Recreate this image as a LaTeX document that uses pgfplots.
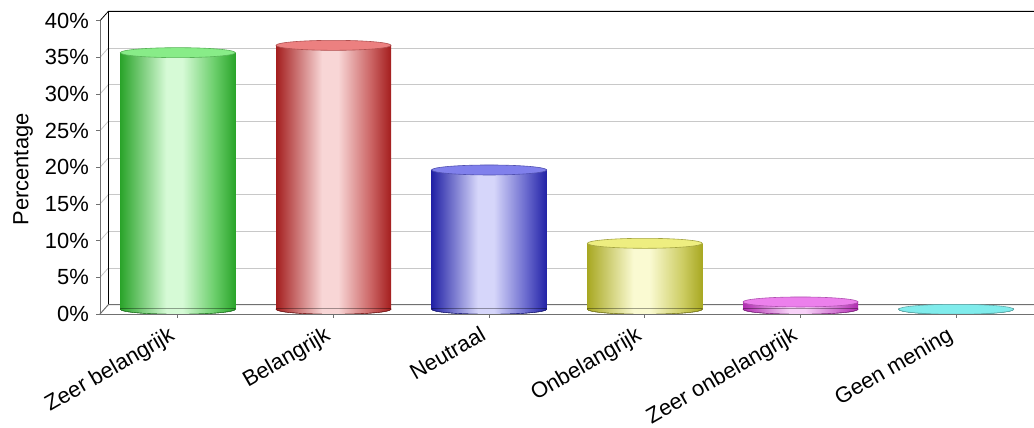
\documentclass[border=0pt]{standalone}
\usepackage{pgfplots}
\pgfplotsset{compat=1.18}
\usepackage{fontspec}
\setmainfont{Liberation Sans}

\definecolor{gE}{HTML}{2AA42A}\definecolor{gL}{HTML}{D6FAD6}\definecolor{gM}{HTML}{6ACE6A}\definecolor{gT}{HTML}{88EC88}\definecolor{gO}{HTML}{58B458}
\definecolor{rE}{HTML}{A41E1E}\definecolor{rL}{HTML}{F8D6D6}\definecolor{rM}{HTML}{CC6666}\definecolor{rT}{HTML}{EC8080}\definecolor{rO}{HTML}{B05050}
\definecolor{bE}{HTML}{2222A6}\definecolor{bL}{HTML}{D6D6FA}\definecolor{bM}{HTML}{6A6ACE}\definecolor{bT}{HTML}{8080EC}\definecolor{bO}{HTML}{5050B0}
\definecolor{yE}{HTML}{A8A822}\definecolor{yL}{HTML}{FAFAD2}\definecolor{yM}{HTML}{CECE66}\definecolor{yT}{HTML}{EEEE80}\definecolor{yO}{HTML}{A4A440}
\definecolor{mE}{HTML}{B02CB0}\definecolor{mL}{HTML}{F8D2F8}\definecolor{mM}{HTML}{D070D0}\definecolor{mT}{HTML}{EC80EC}\definecolor{mO}{HTML}{B050B0}
\definecolor{cE}{HTML}{30B0B0}\definecolor{cL}{HTML}{D4F8F8}\definecolor{cM}{HTML}{70D0D0}\definecolor{cT}{HTML}{80ECEC}\definecolor{cO}{HTML}{60AAAA}
\definecolor{gridc}{HTML}{C8C8C8}
\definecolor{framec}{HTML}{707070}

\newcommand\defcyl[1]{%
 \pgfdeclarehorizontalshading{cyl#1}{100bp}{color(0bp)=(#1E); color(25bp)=(#1E); color(45bp)=(#1L); color(52bp)=(#1L); color(66bp)=(#1M); color(75bp)=(#1E); color(100bp)=(#1E)}%
 \pgfdeclareplotmark{bot#1}{%
   \shade[shading=cyl#1] (-57.5bp,0.6bp) -- (-57.5bp,0bp) arc[start angle=180, end angle=360, x radius=57.5bp, y radius=5bp] -- (57.5bp,0.6bp) -- cycle;
   \draw[#1E, line width=0.4bp] (-57.5bp,0bp) arc[start angle=180, end angle=360, x radius=57.5bp, y radius=5bp];}%
 \pgfdeclareplotmark{top#1}{\filldraw[fill=#1T, draw=#1O, line width=0.6bp] (0bp,0bp) ellipse (57.5bp and 5bp);}%
}
\defcyl{g}\defcyl{r}\defcyl{b}\defcyl{y}\defcyl{m}\defcyl{c}

\begin{document}
\begin{tikzpicture}
\begin{axis}[
  set layers,
  scale only axis, width=934bp, height=293.3bp,
  xmin=-0.5, xmax=5.5, ymin=0, ymax=40,
  clip=false,
  axis line style={draw=none},
  major tick length=0pt,
  xtick={0,1,2,3,4,5},
  xticklabels={Zeer belangrijk, Belangrijk, Neutraal, Onbelangrijk, Zeer onbelangrijk, Geen mening},
  ytick={0,5,10,15,20,25,30,35,40},
  yticklabel={\pgfmathprintnumber{\tick}\%},
  /pgf/number format/assume math mode=true,
  tick label style={font=\fontsize{22}{26}\selectfont, inner sep=0pt},
  yticklabel style={anchor=east, xshift=-11bp, yshift=-4.7bp},
  xticklabel style={xshift=-10bp, yshift=-16bp, rotate=30, anchor=north east},
  ylabel={Percentage},
  ylabel style={font=\fontsize{22}{26}\selectfont, at={(axis description cs:-0.0824,0.477)}, anchor=center},
]
\coordinate (LL) at (rel axis cs:0,0);
\coordinate (UR) at (rel axis cs:1,1);

\begin{pgfonlayer}{axis background}
 \pgfplotsinvokeforeach{5,10,15,20,25,30,35}{
   \draw[gridc, line width=0.8bp] ([xshift=8.3bp,yshift=4.6bp]axis cs:-0.5,#1) -- ([yshift=4.6bp]axis cs:5.5,#1);
   \draw[gridc, line width=0.8bp] ([yshift=-4.7bp]axis cs:-0.5,#1) -- ([xshift=8.3bp,yshift=4.6bp]axis cs:-0.5,#1);
 }
 \draw[black, line width=0.8bp] ([yshift=-4.7bp]axis cs:-0.5,40) -- ([xshift=8.3bp,yshift=4.6bp]axis cs:-0.5,40) -- ([yshift=4.6bp]axis cs:5.5,40);
 \draw[black, line width=0.8bp] ([xshift=8.3bp,yshift=4.6bp]axis cs:-0.5,40) -- ([xshift=8.3bp,yshift=4.6bp]axis cs:-0.5,0);
 \draw[framec, line width=1bp] ([yshift=-4.7bp]axis cs:-0.5,0) -- ([xshift=8.3bp,yshift=4.6bp]axis cs:-0.5,0) -- ([yshift=4.6bp]axis cs:5.5,0);
\end{pgfonlayer}

% bottoms
\addplot[only marks, mark=botg] coordinates {(0,0)};
\addplot[only marks, mark=botr] coordinates {(1,0)};
\addplot[only marks, mark=botb] coordinates {(2,0)};
\addplot[only marks, mark=boty] coordinates {(3,0)};
\addplot[only marks, mark=botm] coordinates {(4,0)};
\addplot[only marks, mark=botc] coordinates {(5,0)};
% bodies
\addplot[ybar, bar width=115bp, bar shift=0pt, draw=none, shade, shading=cylg] coordinates {(0,35)};
\addplot[ybar, bar width=115bp, bar shift=0pt, draw=none, shade, shading=cylr] coordinates {(1,36)};
\addplot[ybar, bar width=115bp, bar shift=0pt, draw=none, shade, shading=cylb] coordinates {(2,19)};
\addplot[ybar, bar width=115bp, bar shift=0pt, draw=none, shade, shading=cyly] coordinates {(3,9)};
\addplot[ybar, bar width=115bp, bar shift=0pt, draw=none, shade, shading=cylm] coordinates {(4,1)};
% tops
\addplot[only marks, mark=topg] coordinates {(0,35)};
\addplot[only marks, mark=topr] coordinates {(1,36)};
\addplot[only marks, mark=topb] coordinates {(2,19)};
\addplot[only marks, mark=topy] coordinates {(3,9)};
\addplot[only marks, mark=topm] coordinates {(4,1)};
\addplot[only marks, mark=topc] coordinates {(5,0)};

\begin{pgfonlayer}{axis foreground}
 \draw[framec, line width=1bp] ([yshift=-4.7bp]axis cs:-0.5,0) -- ([yshift=-4.7bp]axis cs:-0.5,40);
 \pgfplotsinvokeforeach{0,5,10,15,20,25,30,35,40}{
   \draw[framec, line width=0.8bp] ([yshift=-4.7bp]axis cs:-0.5,#1) -- ([xshift=-3.5bp,yshift=-4.7bp]axis cs:-0.5,#1);
 }
 \draw[framec, line width=1bp] ([yshift=-4.7bp]axis cs:-0.5,0) -- ([yshift=-4.7bp]axis cs:5.5,0);
 \pgfplotsinvokeforeach{0,1,2,3,4,5}{
   \draw[framec, line width=0.8bp] ([yshift=-4.7bp]axis cs:#1,0) -- ([yshift=-8.7bp]axis cs:#1,0);
 }
\end{pgfonlayer}
\end{axis}
\pgfresetboundingbox
\path[use as bounding box] ([xshift=-100bp,yshift=-118.7bp]LL) rectangle ([yshift=16bp]UR);
\end{tikzpicture}
\end{document}
